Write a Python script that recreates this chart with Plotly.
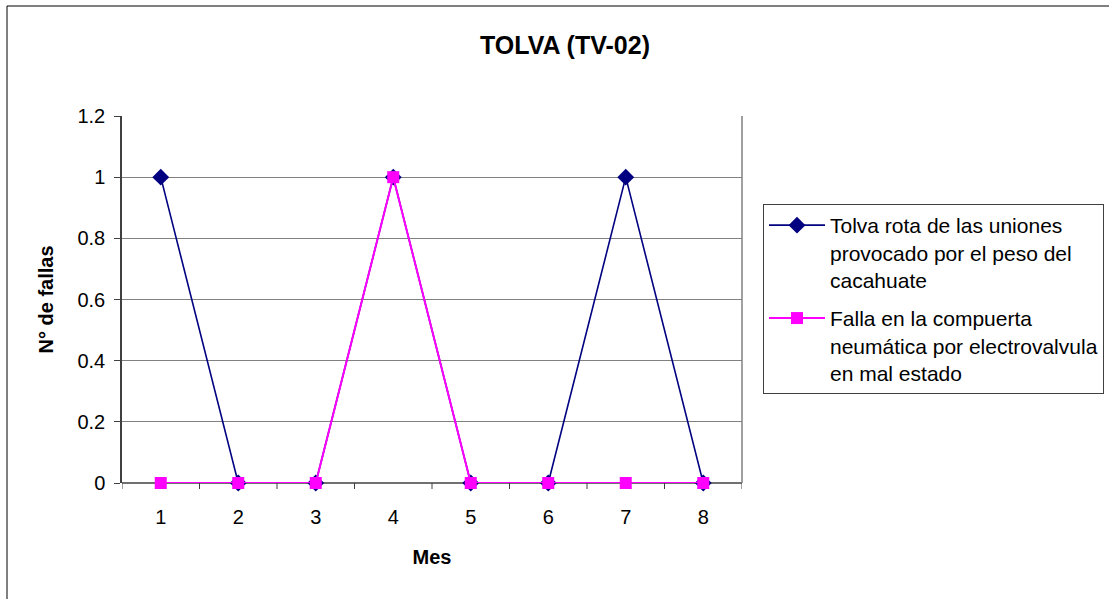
import plotly.graph_objects as go

meses = [1, 2, 3, 4, 5, 6, 7, 8]
tolva_rota = [1, 0, 0, 1, 0, 0, 1, 0]
falla_compuerta = [0, 0, 0, 1, 0, 0, 0, 0]
nombre_1 = "Tolva rota de las uniones<br>provocado por el peso del<br>cacahuate"
nombre_2 = "Falla en la compuerta<br>neumática por electrovalvula<br>en mal estado"
y_ticks = [0, 0.2, 0.4, 0.6, 0.8, 1, 1.2]
y_labels = ["0", "0.2", "0.4", "0.6", "0.8", "1", "1.2"]

W, H = 1109, 599
L, R, T, B = 122, 742, 116, 483
pw, ph = R - L, B - T

def px(x):
    return (x - L) / pw

def py(y):
    return (B - y) / ph

fig = go.Figure()
fig.add_trace(go.Scatter(
    x=meses, y=tolva_rota, mode="lines+markers", name=nombre_1,
    legendgroup="a", cliponaxis=False,
    line=dict(color="#000080", width=1.6),
    marker=dict(symbol="diamond", size=13, color="#000080"),
))
fig.add_trace(go.Scatter(
    x=meses, y=falla_compuerta, mode="lines+markers", name=nombre_2,
    legendgroup="b", cliponaxis=False,
    line=dict(color="#FF00FF", width=2),
    marker=dict(symbol="square", size=12, color="#FF00FF"),
))

FONT = "Liberation Sans, Arial"
fig.update_layout(
    width=W, height=H,
    margin=dict(l=L, r=W - R, t=T, b=H - B, autoexpand=False),
    paper_bgcolor="white", plot_bgcolor="white",
    font=dict(family=FONT, size=20, color="black"),
    title=dict(text="<b>TOLVA (TV-02)</b>", x=565 / W, xanchor="center",
               y=1 - 45 / H, yanchor="middle", font=dict(size=25)),
    showlegend=True,
    legend=dict(
        xref="container", yref="container",
        x=763 / W, y=1 - 204 / H, xanchor="left", yanchor="top",
        bordercolor="#404040", borderwidth=1, bgcolor="white",
        font=dict(size=21), tracegroupgap=8, itemwidth=56, valign="top",
    ),
    xaxis=dict(
        range=[0.5, 8.5], tickmode="array", tickvals=meses,
        ticktext=[str(m) for m in meses],
        showgrid=False, zeroline=False, showline=False,
        ticks="", tickfont=dict(size=20), ticklabelstandoff=20,
        title=dict(text="<b>Mes</b>", font=dict(size=20), standoff=22),
        fixedrange=True,
    ),
    yaxis=dict(
        range=[0, 1.2], tickmode="array", tickvals=y_ticks, ticktext=y_labels,
        showgrid=True, gridcolor="#808080", gridwidth=1,
        zeroline=False, showline=True, linecolor="#404040", linewidth=1.5,
        ticks="outside", ticklen=6, tickcolor="#404040",
        tickfont=dict(size=20), ticklabelstandoff=5,
        title=dict(text="<b>N° de fallas</b>", font=dict(size=20), standoff=18),
        fixedrange=True,
    ),
)

shapes = []
# outer chart frame
shapes.append(dict(type="rect", xref="paper", yref="paper",
                   x0=px(7), x1=px(1130), y0=py(620), y1=py(6),
                   line=dict(color="black", width=1), layer="below"))
# plot area right border
shapes.append(dict(type="line", xref="paper", yref="paper",
                   x0=1, x1=1, y0=0, y1=1, line=dict(color="#808080", width=1.5)))
# x axis line
shapes.append(dict(type="line", xref="paper", yref="paper",
                   x0=0, x1=1, y0=0, y1=0, line=dict(color="#404040", width=1.5),
                   layer="below"))
# x tick marks between categories
for k in range(len(meses) + 1):
    xv = 0.5 + k
    shapes.append(dict(type="line", xref="x", yref="paper",
                       x0=xv, x1=xv, y0=0, y1=-6 / ph,
                       line=dict(color="#404040", width=1)))
fig.update_layout(shapes=shapes)

fig.write_html(
    "out.html",
    config={"displayModeBar": False, "responsive": False},
    post_script="document.body.style.margin='0px';document.body.style.overflow='hidden';",
)
